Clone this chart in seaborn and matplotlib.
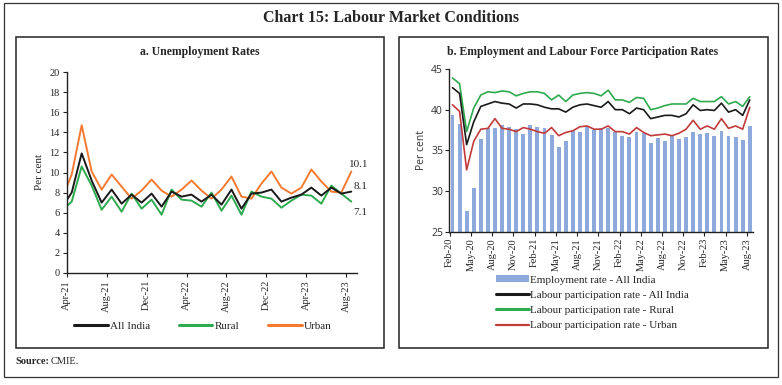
import numpy as np
import pandas as pd
import matplotlib
matplotlib.use("Agg")
import matplotlib.pyplot as plt
from matplotlib.patches import Rectangle
from matplotlib.lines import Line2D
from matplotlib.patches import Patch
import seaborn as sns

# panel a: unemployment rates (Mar-21 is only partly visible, clipped at the axis)
months_a = ['Mar-21', 'Apr-21', 'May-21', 'Jun-21', 'Jul-21', 'Aug-21', 'Sep-21', 'Oct-21',
            'Nov-21', 'Dec-21', 'Jan-22', 'Feb-22', 'Mar-22', 'Apr-22', 'May-22', 'Jun-22',
            'Jul-22', 'Aug-22', 'Sep-22', 'Oct-22', 'Nov-22', 'Dec-22', 'Jan-23', 'Feb-23',
            'Mar-23', 'Apr-23', 'May-23', 'Jun-23', 'Jul-23', 'Aug-23']
ur_all = [6.5, 8.0, 11.9, 9.2, 7.0, 8.3, 6.9, 7.8, 7.0, 7.9, 6.6, 8.1, 7.6, 7.8, 7.1,
          7.8, 6.8, 8.3, 6.4, 7.9, 8.0, 8.3, 7.1, 7.5, 7.8, 8.5, 7.7, 8.5, 7.9, 8.1]
ur_rural = [6.2, 7.1, 10.6, 8.7, 6.3, 7.6, 6.1, 7.9, 6.4, 7.3, 5.8, 8.3, 7.3, 7.2, 6.6,
            8.0, 6.2, 7.7, 5.8, 8.1, 7.6, 7.4, 6.5, 7.2, 7.8, 7.7, 6.9, 8.7, 7.9, 7.1]
ur_urban = [7.3, 9.8, 14.7, 10.1, 8.3, 9.8, 8.6, 7.4, 8.2, 9.3, 8.2, 7.6, 8.3, 9.2, 8.2,
            7.4, 8.3, 9.6, 7.6, 7.4, 8.9, 10.1, 8.5, 7.9, 8.5, 10.3, 9.1, 8.1, 8.0, 10.1]

# panel b: employment and labour participation
months_b = ['Feb-20', 'Mar-20', 'Apr-20', 'May-20', 'Jun-20', 'Jul-20', 'Aug-20', 'Sep-20',
            'Oct-20', 'Nov-20', 'Dec-20', 'Jan-21', 'Feb-21', 'Mar-21', 'Apr-21', 'May-21',
            'Jun-21', 'Jul-21', 'Aug-21', 'Sep-21', 'Oct-21', 'Nov-21', 'Dec-21', 'Jan-22',
            'Feb-22', 'Mar-22', 'Apr-22', 'May-22', 'Jun-22', 'Jul-22', 'Aug-22', 'Sep-22',
            'Oct-22', 'Nov-22', 'Dec-22', 'Jan-23', 'Feb-23', 'Mar-23', 'Apr-23', 'May-23',
            'Jun-23', 'Jul-23', 'Aug-23']
emp_all = [39.3, 38.3, 27.5, 30.4, 36.4, 37.7, 37.7, 38.1, 37.9, 37.6, 37.0, 38.1, 37.9,
           37.7, 36.9, 35.4, 36.1, 37.4, 37.2, 37.9, 37.5, 37.7, 37.7, 37.3, 36.8, 36.6,
           37.2, 37.1, 35.9, 36.5, 36.1, 36.8, 36.4, 36.6, 37.3, 37.0, 37.1, 36.8, 37.4,
           36.8, 36.7, 36.3, 38.0]
lpr_all = [42.7, 42.0, 35.7, 38.5, 40.4, 40.7, 41.0, 40.8, 40.7, 40.2, 40.7, 40.7, 40.6,
           40.3, 40.1, 40.1, 39.7, 40.3, 40.6, 40.7, 40.5, 40.3, 41.0, 40.0, 40.0, 39.5,
           40.2, 40.0, 38.9, 39.1, 39.3, 39.3, 39.1, 39.5, 40.6, 39.9, 40.0, 39.9, 40.8,
           39.7, 40.0, 39.3, 41.2]
lpr_rural = [43.9, 43.2, 37.3, 40.2, 41.8, 42.2, 42.1, 42.3, 42.2, 41.7, 42.0, 42.2, 42.2,
             42.0, 41.2, 41.8, 41.0, 41.8, 42.0, 42.1, 42.0, 41.7, 42.4, 41.2, 41.2, 40.9,
             41.5, 41.4, 40.0, 40.2, 40.5, 40.7, 40.7, 40.7, 41.4, 41.0, 41.0, 41.0, 41.6,
             40.7, 41.0, 40.4, 41.6]
lpr_urban = [40.6, 39.8, 32.6, 36.1, 37.6, 37.7, 38.9, 37.7, 37.6, 37.3, 37.8, 37.6, 37.3,
             37.1, 37.8, 36.8, 37.2, 37.4, 37.9, 38.0, 37.6, 37.6, 38.0, 37.3, 37.3, 37.0,
             37.8, 37.2, 36.8, 36.9, 37.0, 36.8, 37.1, 37.6, 38.7, 37.6, 38.0, 37.6, 38.9,
             37.7, 38.0, 37.6, 40.3]

serif = 'Liberation Serif'
sns.set_style('white')
plt.rcParams['font.family'] = [serif, 'DejaVu Serif']

W, H = 782, 385
fig = plt.figure(figsize=(W / 100, H / 100), dpi=100)


def fx(px):
    return px / W


def fy(py):
    return 1 - py / H


# frames
fig.add_artist(Rectangle((fx(4), fy(377)), fx(774), 374 / H, fill=False, lw=0.9,
                         edgecolor='#333333', transform=fig.transFigure))
fig.add_artist(Rectangle((fx(15.5), fy(347.7)), fx(368), 310.4 / H, fill=False, lw=1.1,
                         edgecolor='#222222', transform=fig.transFigure))
fig.add_artist(Rectangle((fx(399), fy(347.7)), fx(369.3), 310.4 / H, fill=False, lw=1.1,
                         edgecolor='#222222', transform=fig.transFigure))

fig.text(0.5, fy(18), 'Chart 15: Labour Market Conditions', ha='center', va='center',
         fontsize=11.5, fontweight='bold')
fig.text(fx(15), fy(362), 'Source:', ha='left', va='center', fontsize=7.5, fontweight='bold')
fig.text(fx(51), fy(362), 'CMIE.', ha='left', va='center', fontsize=7.5)

# ---------- panel a ----------
axa = fig.add_axes([fx(66.7), fy(273), fx(357.3 - 66.7), (273 - 72) / H])
df_a = pd.DataFrame({'pos': np.arange(len(months_a)) - 1, 'all': ur_all,
                     'rural': ur_rural, 'urban': ur_urban})
col_black, col_green, col_orange = '#1a1a1a', '#2eaa4f', '#f47a32'
sns.lineplot(data=df_a, x='pos', y='urban', ax=axa, color=col_orange, lw=1.4)
sns.lineplot(data=df_a, x='pos', y='rural', ax=axa, color=col_green, lw=1.4)
sns.lineplot(data=df_a, x='pos', y='all', ax=axa, color=col_black, lw=1.4)
axa.set_xlim(-0.5, 28.6)
axa.set_ylim(0, 20)
axa.set_yticks(range(0, 21, 2))
tick_a = [p - 0.5 for p, m in zip(df_a['pos'], months_a) if p >= 0 and p % 4 == 0]
lab_a = [m for p, m in zip(df_a['pos'], months_a) if p >= 0 and p % 4 == 0]
axa.set_xticks(tick_a)
axa.set_xticklabels(lab_a, rotation=90)
axa.set_xlabel('')
axa.set_ylabel('Per cent', fontsize=8, labelpad=4)
for s in ['top', 'right']:
    axa.spines[s].set_visible(False)
for s in ['left', 'bottom']:
    axa.spines[s].set_color('#222222')
    axa.spines[s].set_linewidth(1.0)
axa.tick_params(axis='both', direction='out', length=3, width=0.8, labelsize=7.5,
                color='#222222', pad=2, left=True, bottom=True)
last = df_a.iloc[-1]
axa.annotate(f"{last['urban']:.1f}", (last['pos'], last['urban']), xytext=(-2, 5),
             textcoords='offset points', fontsize=8, ha='left', va='center')
axa.annotate(f"{last['all']:.1f}", (last['pos'], last['all']), xytext=(1.5, 3.5),
             textcoords='offset points', fontsize=8, ha='left', va='center')
axa.annotate(f"{last['rural']:.1f}", (last['pos'], last['rural']), xytext=(1.5, -8),
             textcoords='offset points', fontsize=8, ha='left', va='center')
handles_a = [Line2D([], [], color=col_black, lw=2.2, label='All India'),
             Line2D([], [], color=col_green, lw=2.2, label='Rural'),
             Line2D([], [], color=col_orange, lw=2.2, label='Urban')]
axa.legend(handles=handles_a, loc='center', bbox_to_anchor=(fx(203), fy(326)),
           bbox_transform=fig.transFigure, ncol=3, frameon=False, fontsize=8,
           handlelength=3.0, handletextpad=0.2, columnspacing=2.6)

# ---------- panel b ----------
axb = fig.add_axes([fx(449.3), fy(231.7), fx(753.3 - 449.3), (231.7 - 69) / H])
df_b = pd.DataFrame({'pos': np.arange(len(months_b)), 'emp': emp_all, 'lpr': lpr_all,
                     'rural': lpr_rural, 'urban': lpr_urban})
col_bar, col_red = '#8eaadc', '#c23b3b'
sns.barplot(data=df_b, x='pos', y='emp', ax=axb, color=col_bar, native_scale=True,
            width=0.55, saturation=1, edgecolor='none')
sns.lineplot(data=df_b, x='pos', y='rural', ax=axb, color=col_green, lw=1.2)
sns.lineplot(data=df_b, x='pos', y='lpr', ax=axb, color=col_black, lw=1.2)
sns.lineplot(data=df_b, x='pos', y='urban', ax=axb, color=col_red, lw=1.2)
axb.set_xlim(-0.45, 42.5)
axb.set_ylim(25, 45)
axb.set_yticks(range(25, 46, 5))
tick_b = [p - 0.4 for p in df_b['pos'] if p % 3 == 0]
lab_b = [m for p, m in zip(df_b['pos'], months_b) if p % 3 == 0]
axb.set_xticks(tick_b)
axb.set_xticklabels(lab_b, rotation=90)
axb.set_xlabel('')
axb.set_ylabel('Per cent', fontsize=7.5, labelpad=3, family=['Open Sans', 'DejaVu Sans'],
               color='#333333')
for lab in axb.get_yticklabels():
    lab.set_family(['Open Sans', 'DejaVu Sans'])
    lab.set_color('#333333')
for s in ['top', 'right']:
    axb.spines[s].set_visible(False)
for s in ['left', 'bottom']:
    axb.spines[s].set_color('#222222')
    axb.spines[s].set_linewidth(1.0)
axb.tick_params(axis='both', direction='out', length=3, width=0.8, labelsize=7.5,
                color='#222222', pad=1.5, left=True, bottom=True)
axb.tick_params(axis='y', labelsize=7.5)
handles_b = [Patch(facecolor=col_bar, edgecolor='none', label='Employment rate - All India'),
             Line2D([], [], color=col_black, lw=2.2, label='Labour participation rate - All India'),
             Line2D([], [], color=col_green, lw=2.2, label='Labour participation rate - Rural'),
             Line2D([], [], color=col_red, lw=1.6, label='Labour participation rate - Urban')]
axb.legend(handles=handles_b, loc='upper left', bbox_to_anchor=(fx(492), fy(271)),
           bbox_transform=fig.transFigure, frameon=False, fontsize=8,
           handlelength=2.9, handleheight=0.5, handletextpad=0.15, labelspacing=0.55,
           borderaxespad=0)

fig.text(fx(200), fy(52.3), 'a. Unemployment Rates', ha='center', va='center',
         fontsize=8.5, fontweight='bold')
fig.text(fx(583), fy(52.3), 'b. Employment and Labour Force Participation Rates',
         ha='center', va='center', fontsize=8.5, fontweight='bold')

fig.savefig('out.png', dpi=100)
